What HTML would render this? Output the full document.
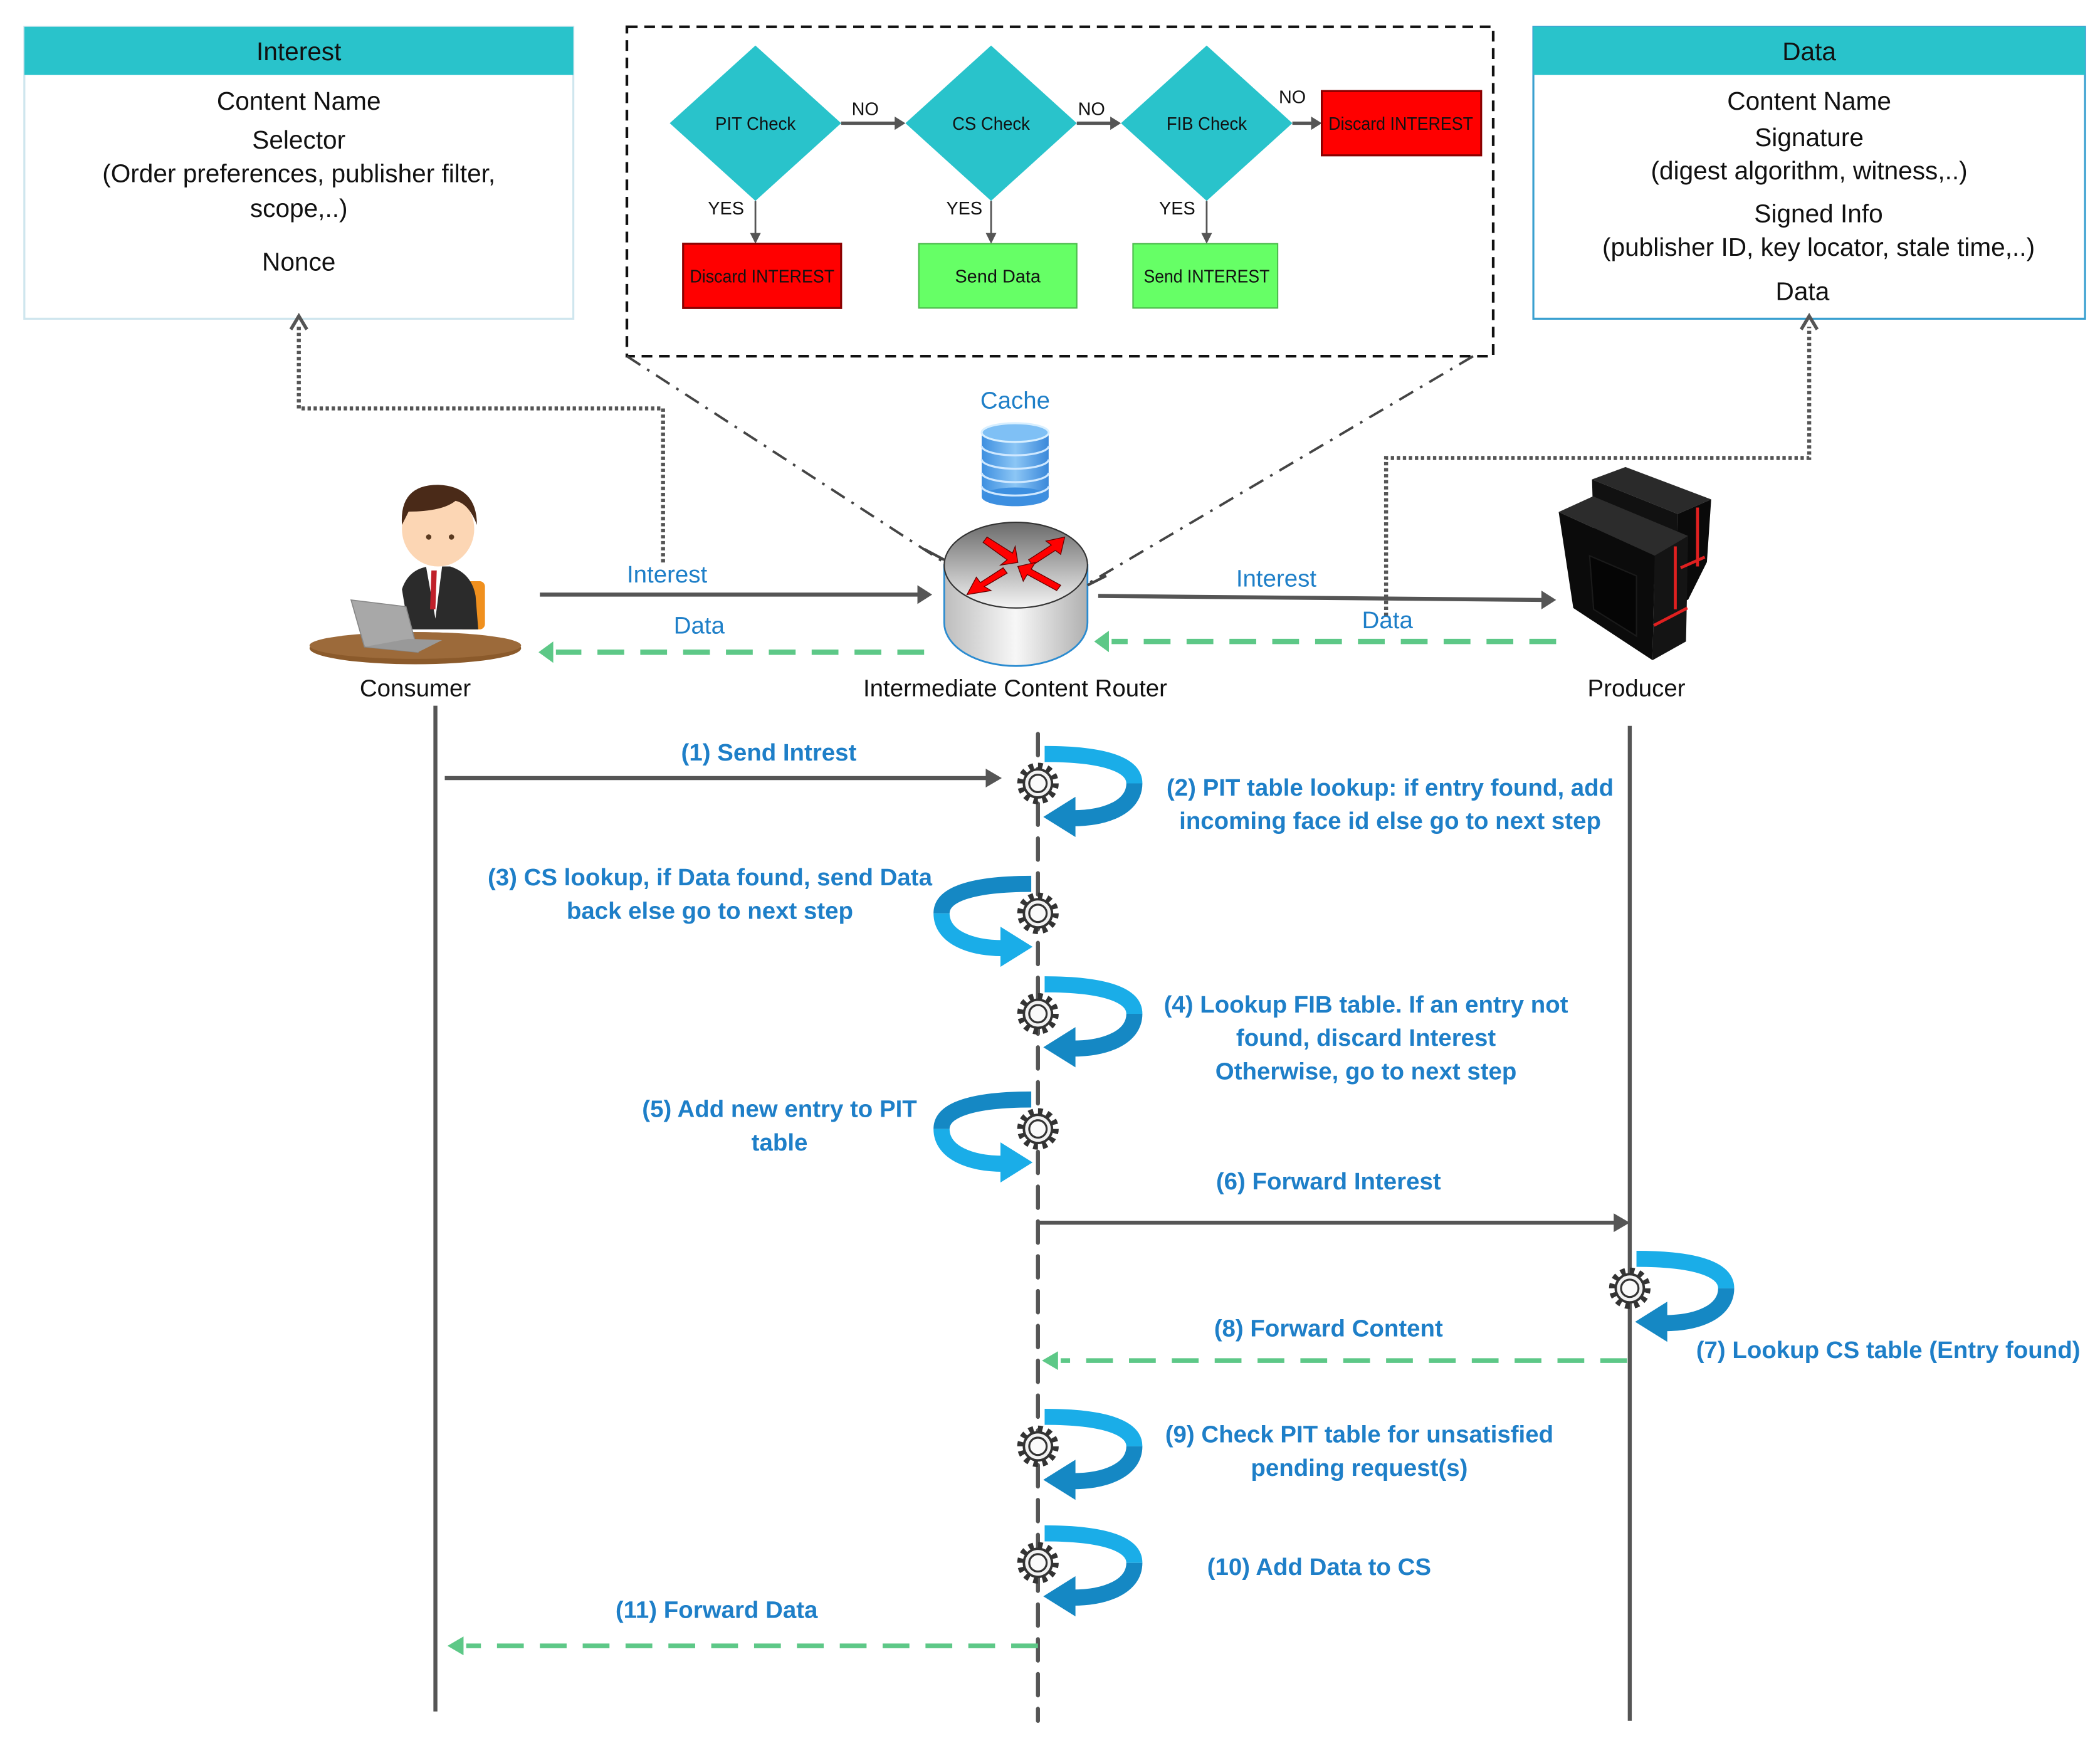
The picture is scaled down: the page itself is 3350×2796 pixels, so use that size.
<!DOCTYPE html>
<html><head><meta charset="utf-8"><style>html,body{margin:0;padding:0;background:#fff}svg{display:block}</style></head>
<body>
<svg width="3350" height="2796" viewBox="0 0 1568 1309" xmlns="http://www.w3.org/2000/svg" font-family="Liberation Sans, sans-serif">
<defs>
<linearGradient id="rg" x1="0" y1="0" x2="1" y2="0"><stop offset="0" stop-color="#bdbdbd"/><stop offset="0.5" stop-color="#f7f7f7"/><stop offset="1" stop-color="#b0b0b0"/></linearGradient>
<linearGradient id="rt" x1="0" y1="0" x2="0" y2="1"><stop offset="0" stop-color="#6a6a6a"/><stop offset="1" stop-color="#f4f4f4"/></linearGradient>
<linearGradient id="cg" x1="0" y1="0" x2="1" y2="0"><stop offset="0" stop-color="#3d8fe0"/><stop offset="0.5" stop-color="#8cc6f5"/><stop offset="1" stop-color="#3a88da"/></linearGradient>
<g id="gear"><circle r="13" fill="none" stroke="#333" stroke-width="5" stroke-dasharray="3.4 3.4"/><circle r="10.5" fill="#f2f2f2" stroke="#333" stroke-width="1.8"/><circle r="6.5" fill="#fafafa" stroke="#333" stroke-width="1.5"/></g>
<g id="loopR"><path d="M5,-22 C50,-22 72,-14 72,0" fill="none" stroke="#1AADE8" stroke-width="12"/><path d="M72,0 C72,18 50,26 26,26" fill="none" stroke="#1588C4" stroke-width="12"/><polygon points="4,25 28,10 28,40" fill="#1588C4"/></g>
<g id="loopL"><path d="M-5,-22 C-50,-22 -72,-14 -72,0" fill="none" stroke="#1588C4" stroke-width="12"/><path d="M-72,0 C-72,18 -50,26 -26,26" fill="none" stroke="#1AADE8" stroke-width="12"/><polygon points="-4,25 -28,10 -28,40" fill="#1AADE8"/></g>
</defs>

<!-- Interest box -->
<rect x="18" y="20" width="410" height="218" fill="#fff" stroke="#cfe6ee" stroke-width="1.5"/>
<rect x="18" y="20" width="410" height="36" fill="#29C3CB"/>
<g font-size="19" fill="#111" text-anchor="middle">
<text x="223" y="45">Interest</text>
<text x="223" y="82">Content Name</text>
<text x="223" y="111">Selector</text>
<text x="223" y="136">(Order preferences, publisher filter,</text>
<text x="223" y="162">scope,..)</text>
<text x="223" y="202">Nonce</text>
</g>
<!-- Data box -->
<rect x="1145" y="20" width="412" height="218" fill="#fff" stroke="#3aa0d0" stroke-width="1.5"/>
<rect x="1145" y="20" width="412" height="36" fill="#29C3CB"/>
<g font-size="19" fill="#111" text-anchor="middle">
<text x="1351" y="45">Data</text>
<text x="1351" y="82">Content Name</text>
<text x="1351" y="109">Signature</text>
<text x="1351" y="134">(digest algorithm, witness,..)</text>
<text x="1358" y="166">Signed Info</text>
<text x="1358" y="191">(publisher ID, key locator, stale time,..)</text>
<text x="1346" y="224">Data</text>
</g>

<!-- flowchart box -->
<rect x="468" y="20" width="647" height="246" fill="none" stroke="#111" stroke-width="2" stroke-dasharray="8 5"/>
<g fill="#29C3CB">
<polygon points="564,34 628,92 564,150 500,92"/>
<polygon points="740,34 804,92 740,150 676,92"/>
<polygon points="901,34 965,92 901,150 837,92"/>
</g>
<g stroke="#555" stroke-width="2.5" fill="#555">
<line x1="628" y1="92" x2="670" y2="92"/><polygon points="676,92 668,87 668,97" stroke="none"/>
<line x1="804" y1="92" x2="831" y2="92"/><polygon points="837,92 829,87 829,97" stroke="none"/>
<line x1="965" y1="92" x2="981" y2="92"/><polygon points="987,92 979,87 979,97" stroke="none"/>
</g>
<g stroke="#555" stroke-width="1.3" fill="#555">
<line x1="564" y1="150" x2="564" y2="176"/><polygon points="564,182 560,174 568,174" stroke="none"/>
<line x1="740" y1="150" x2="740" y2="176"/><polygon points="740,182 736,174 744,174" stroke="none"/>
<line x1="901" y1="150" x2="901" y2="176"/><polygon points="901,182 897,174 905,174" stroke="none"/>
</g>
<rect x="987" y="68" width="119" height="48" fill="#f00" stroke="#8a0000" stroke-width="1.5"/>
<rect x="510" y="182" width="118" height="48" fill="#f00" stroke="#8a0000" stroke-width="1.5"/>
<rect x="686" y="182" width="118" height="48" fill="#66ff66" stroke="#4cbb4c" stroke-width="1"/>
<rect x="846" y="182" width="108" height="48" fill="#66ff66" stroke="#4cbb4c" stroke-width="1"/>
<g font-size="13.5" fill="#111" text-anchor="middle">
<text x="564" y="97" textLength="60" lengthAdjust="spacingAndGlyphs">PIT Check</text>
<text x="740" y="97" textLength="58" lengthAdjust="spacingAndGlyphs">CS Check</text>
<text x="901" y="97" textLength="60" lengthAdjust="spacingAndGlyphs">FIB Check</text>
<text x="1046" y="97" textLength="108" lengthAdjust="spacingAndGlyphs">Discard INTEREST</text>
<text x="569" y="211" textLength="108" lengthAdjust="spacingAndGlyphs">Discard INTEREST</text>
<text x="745" y="211" textLength="64" lengthAdjust="spacingAndGlyphs">Send Data</text>
<text x="901" y="211" textLength="94" lengthAdjust="spacingAndGlyphs">Send INTEREST</text>
<text x="646" y="86">NO</text><text x="815" y="86">NO</text><text x="965" y="77">NO</text>
<text x="542" y="160">YES</text><text x="720" y="160">YES</text><text x="879" y="160">YES</text>
</g>
<!-- dash-dot zoom lines -->
<g stroke="#444" stroke-width="1.8" stroke-dasharray="12 6 2 6" fill="none">
<line x1="468" y1="266" x2="705" y2="420"/>
<line x1="1100" y1="266" x2="812" y2="436"/>
</g>

<!-- dotted connectors to boxes -->
<g stroke="#555" stroke-width="3" fill="none" stroke-dasharray="2.5 2">
<polyline points="495,420 495,305 223,305 223,244"/>
<polyline points="1035,460 1035,342 1351,342 1351,244"/>
</g>
<polyline points="217,246 223,236 229,246" fill="none" stroke="#555" stroke-width="2.5"/>
<polyline points="1345,246 1351,236 1357,246" fill="none" stroke="#555" stroke-width="2.5"/>

<!-- cache -->
<text x="758" y="305" font-size="18" fill="#1E7FC8" text-anchor="middle">Cache</text>
<rect x="733" y="323" width="50" height="48" fill="url(#cg)"/>
<ellipse cx="758" cy="371" rx="25" ry="7" fill="#3d8fe0"/>
<g fill="none" stroke="#cfe8ff" stroke-width="1.5">
<path d="M733,333 A25,7 0 0 0 783,333"/><path d="M733,343 A25,7 0 0 0 783,343"/><path d="M733,353 A25,7 0 0 0 783,353"/><path d="M733,363 A25,7 0 0 0 783,363"/>
</g>
<ellipse cx="758" cy="323" rx="25" ry="7" fill="#7fc0f5" stroke="#d8efff" stroke-width="1.5"/>

<!-- router -->
<path d="M705,422 L705,465 A53,32 0 0 0 812,465 L812,422 Z" fill="url(#rg)" stroke="#2a8bd0" stroke-width="1.3"/>
<ellipse cx="758.5" cy="422" rx="53.5" ry="32" fill="url(#rt)" stroke="#333" stroke-width="1"/>
<g fill="#f00" stroke="#600" stroke-width="0.6">
<polygon points="737,401 756,413 758,408 760,420 747,422 752,418 734,405"/>
<polygon points="795,401 792,414 788,411 771,422 768,418 785,407 781,404"/>
<polygon points="722,444 740,441 735,438 752,428 749,424 732,435 729,431"/>
<polygon points="760,423 773,420 770,425 792,437 789,441 767,429 764,434"/>
</g>
<line x1="690" y1="410" x2="705" y2="418" stroke="#444" stroke-width="2"/>
<line x1="812" y1="437" x2="826" y2="430" stroke="#444" stroke-width="2"/>

<!-- consumer -->
<ellipse cx="310" cy="484" rx="79" ry="12" fill="#8B5A2B"/>
<ellipse cx="310" cy="482" rx="79" ry="10" fill="#9c6a3a"/>
<rect x="342" y="434" width="20" height="36" rx="4" fill="#F0901E"/>
<path d="M300,440 Q305,425 320,423 L336,423 Q352,428 355,445 L357,470 L305,470 Z" fill="#2b2b2b"/>
<polygon points="318,423 330,423 325,462" fill="#fff"/>
<polygon points="322,426 326,426 325,455 321,455" fill="#c0202a"/>
<ellipse cx="327" cy="395" rx="27" ry="28" fill="#FCD6B4"/>
<path d="M300,392 Q298,362 327,362 Q356,363 356,392 Q350,376 340,374 Q330,382 305,382 Z" fill="#4a2a18"/>
<circle cx="320" cy="401" r="2" fill="#5a3a20"/><circle cx="337" cy="401" r="2" fill="#5a3a20"/>
<polygon points="262,448 303,453 312,487 272,483" fill="#a8a8a8" stroke="#888" stroke-width="0.8"/>
<polygon points="272,483 312,487 330,478 305,477" fill="#999"/>
<text x="310" y="520" font-size="18" fill="#111" text-anchor="middle">Consumer</text>

<!-- producer server -->
<polygon points="1188.8,358 1213.8,348.7 1277.8,372.9 1252.8,383.8" fill="#2a2a2a"/>
<polygon points="1252.8,383.8 1277.8,372.9 1274.6,419.7 1260.6,447.8 1252,450" fill="#0a0a0a"/>
<polygon points="1188.8,358 1252.8,383.8 1252,450 1190,400" fill="#111"/>
<polygon points="1163.9,382.3 1189.6,370.6 1260.6,400.2 1235.6,415" fill="#2c2c2c"/>
<polygon points="1163.9,382.3 1235.6,415 1234,493 1174.8,454" fill="#0b0b0b"/>
<polygon points="1235.6,415 1260.6,400.2 1259,479 1234,493" fill="#141414"/>
<polygon points="1187,415 1222,430 1222,475 1190,455" fill="#050505" stroke="#1a1a1a"/>
<g stroke="#e02020" stroke-width="2.2"><line x1="1251" y1="408" x2="1251" y2="455"/><line x1="1267.6" y1="379" x2="1267.6" y2="423"/><line x1="1235" y1="467" x2="1260" y2="454"/><line x1="1255" y1="424" x2="1273" y2="416"/></g>
<text x="1222" y="520" font-size="18" fill="#111" text-anchor="middle">Producer</text>
<text x="758" y="520" font-size="18" fill="#111" text-anchor="middle">Intermediate Content Router</text>

<!-- top arrows -->
<g stroke="#555" stroke-width="3">
<line x1="403" y1="444" x2="686" y2="444"/><line x1="820" y1="445" x2="1152" y2="448"/>
</g>
<polygon points="696,444 685,437 685,451" fill="#555"/>
<polygon points="1162,448 1151,441 1151,455" fill="#555"/>
<g stroke="#5DC887" stroke-width="4" stroke-dasharray="20 12">
<line x1="690" y1="487" x2="415" y2="487"/><line x1="1162" y1="479" x2="830" y2="479"/>
</g>
<polygon points="402,487 413,479 413,495" fill="#5DC887"/>
<polygon points="817,479 828,471 828,487" fill="#5DC887"/>
<g font-size="18" fill="#1E7FC8" text-anchor="middle">
<text x="498" y="435">Interest</text><text x="522" y="473">Data</text>
<text x="953" y="438">Interest</text><text x="1036" y="469">Data</text>
</g>

<!-- lifelines -->
<line x1="325" y1="527" x2="325" y2="1278" stroke="#555" stroke-width="3"/>
<line x1="1217" y1="542" x2="1217" y2="1285" stroke="#555" stroke-width="3"/>
<line x1="775" y1="548" x2="775" y2="1285" stroke="#555" stroke-width="3" stroke-dasharray="16 10" stroke-linecap="round"/>

<!-- messages -->
<g stroke="#555" stroke-width="3">
<line x1="332" y1="581" x2="738" y2="581"/><line x1="775" y1="913" x2="1206" y2="913"/>
</g>
<polygon points="748,581 736,574 736,588" fill="#555"/>
<polygon points="1217,913 1205,906 1205,920" fill="#555"/>
<g stroke="#5DC887" stroke-width="3.5" stroke-dasharray="20 12">
<line x1="1215" y1="1016" x2="792" y2="1016"/><line x1="775" y1="1229" x2="348" y2="1229"/>
</g>
<polygon points="778,1016 790,1009 790,1023" fill="#5DC887"/>
<polygon points="334,1229 346,1222 346,1236" fill="#5DC887"/>

<!-- gears & loops -->
<use href="#loopR" x="775" y="585"/><use href="#gear" x="775" y="585"/>
<use href="#loopL" x="775" y="682"/><use href="#gear" x="775" y="682"/>
<use href="#loopR" x="775" y="757"/><use href="#gear" x="775" y="757"/>
<use href="#loopL" x="775" y="843"/><use href="#gear" x="775" y="843"/>
<use href="#loopR" x="1217" y="962"/><use href="#gear" x="1217" y="962"/>
<use href="#loopR" x="775" y="1080"/><use href="#gear" x="775" y="1080"/>
<use href="#loopR" x="775" y="1167"/><use href="#gear" x="775" y="1167"/>

<g font-size="18" font-weight="bold" fill="#1E7FC8" text-anchor="middle">
<text x="574" y="568">(1) Send Intrest</text>
<text x="1038" y="594">(2) PIT table lookup: if entry found, add</text>
<text x="1038" y="619">incoming face id else go to next step</text>
<text x="530" y="661">(3) CS lookup, if Data found, send Data</text>
<text x="530" y="686">back else go to next step</text>
<text x="1020" y="756">(4) Lookup FIB table. If an entry not</text>
<text x="1020" y="781">found, discard Interest</text>
<text x="1020" y="806">Otherwise, go to next step</text>
<text x="582" y="834">(5) Add new entry to PIT</text>
<text x="582" y="859">table</text>
<text x="992" y="888">(6) Forward Interest</text>
<text x="1410" y="1014">(7) Lookup CS table (Entry found)</text>
<text x="992" y="998">(8) Forward Content</text>
<text x="1015" y="1077">(9) Check PIT table for unsatisfied</text>
<text x="1015" y="1102">pending request(s)</text>
<text x="985" y="1176">(10) Add Data to CS</text>
<text x="535" y="1208">(11) Forward Data</text>
</g>
</svg>
</body></html>
